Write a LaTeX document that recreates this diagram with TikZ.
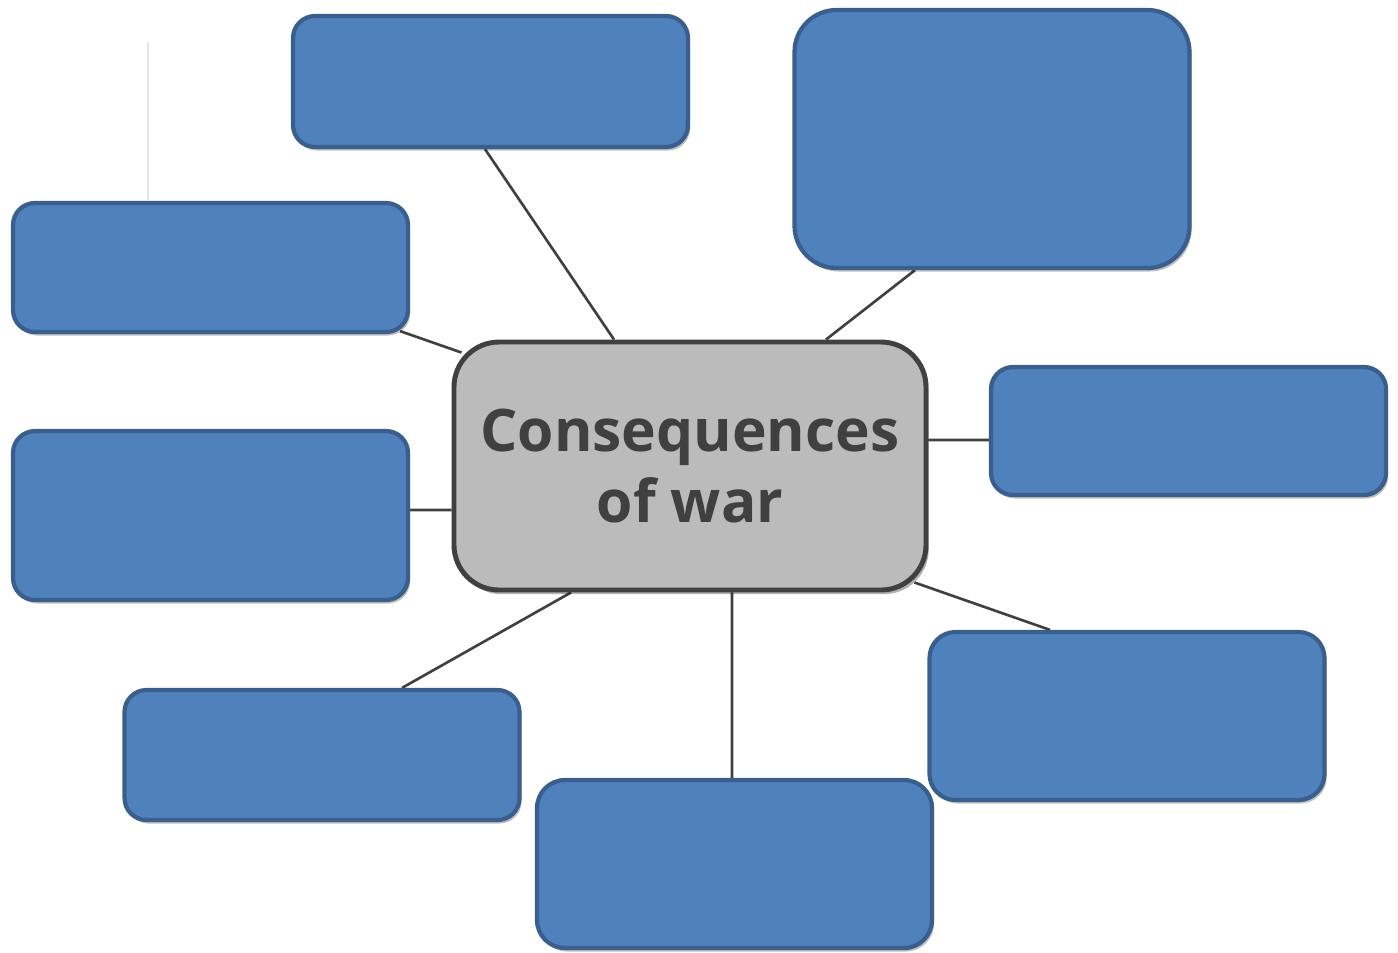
\documentclass[tikz,border=0pt]{standalone}
\usepackage{fontspec}
\setmainfont{Open Sans}
\usetikzlibrary{backgrounds,shadows}
\definecolor{boxfill}{HTML}{4F81BD}
\definecolor{boxline}{HTML}{3A5F8C}
\definecolor{centerfill}{HTML}{BBBBBB}
\definecolor{darkline}{HTML}{404040}
\tikzset{
  bluebox/.style={draw=boxline, fill=boxfill, line width=1.2pt, rounded corners=0.22cm,
    minimum width=3.95cm, inner sep=0pt,
    drop shadow={shadow xshift=0.6pt, shadow yshift=-1pt, opacity=0.25, fill=black}},
  centerbox/.style={draw=darkline, fill=centerfill, line width=1.4pt, rounded corners=0.45cm,
    minimum width=4.72cm, minimum height=2.48cm, inner sep=0pt, align=center,
    text=darkline, font=\fontsize{16.7}{18.8}\selectfont\bfseries,
    drop shadow={shadow xshift=0.8pt, shadow yshift=-1.2pt, opacity=0.3, fill=black}},
  link/.style={draw=darkline, line width=0.75pt},
  faint/.style={draw=black!10, line width=0.4pt}
}
\begin{document}
\begin{tikzpicture}
\useasboundingbox (0,0) rectangle (13.98,-9.52);
\draw[faint] (1.48,-0.42) -- (1.48,-2.0);
\node[centerbox] (c) at (6.90,-4.66) {\raisebox{0pt}{Consequences}\\[1.6pt]of war};
\node[bluebox, minimum height=1.31cm] (tc) at (4.905,-0.815) {};
\node[bluebox, minimum height=2.58cm, rounded corners=0.42cm] (tr) at (9.92,-1.39) {};
\node[bluebox, minimum height=1.29cm] (lu) at (2.105,-2.675) {};
\node[bluebox, minimum height=1.69cm] (lm) at (2.105,-5.155) {};
\node[bluebox, minimum height=1.28cm] (rm) at (11.885,-4.31) {};
\node[bluebox, minimum height=1.30cm] (bl) at (3.22,-7.55) {};
\node[bluebox, minimum height=1.68cm, rounded corners=0.28cm] (bc) at (7.345,-8.64) {};
\node[bluebox, minimum height=1.68cm, rounded corners=0.26cm] (br) at (11.27,-7.16) {};
\begin{scope}[on background layer]
\draw[link] ([xshift=-0.055cm]tc.south) -- ([xshift=-0.76cm]c.north);
\draw[link] ([xshift=-0.77cm]tr.south) -- ([xshift=1.36cm]c.north);
\draw[link] ([xshift=-0.10cm,yshift=0.03cm]lu.south east) -- ([xshift=0.10cm,yshift=-0.13cm]c.north west);
\draw[link] ([yshift=0.055cm]lm.east) -- ([yshift=-0.44cm]c.west);
\draw[link] ([yshift=-0.09cm]rm.west) -- ([yshift=0.26cm]c.east);
\draw[link] ([xshift=0.80cm]bl.north) -- ([xshift=-1.19cm]c.south);
\draw[link] ([xshift=-0.025cm]bc.north) -- ([xshift=0.42cm]c.south);
\draw[link] ([xshift=-0.77cm]br.north) -- ([xshift=-0.14cm,yshift=0.10cm]c.south east);
\end{scope}
\end{tikzpicture}
\end{document}
